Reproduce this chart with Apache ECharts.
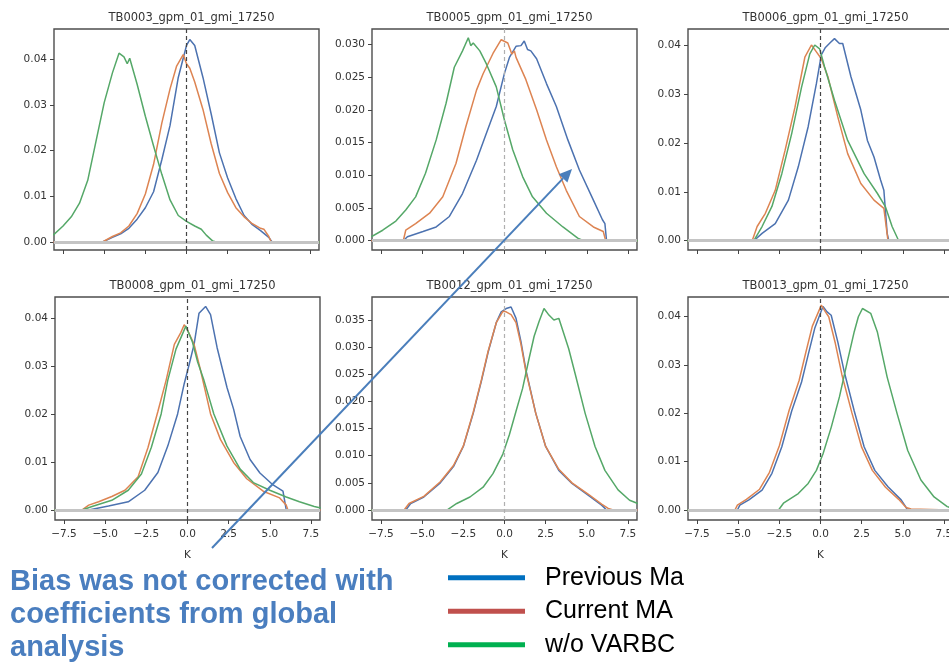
<!DOCTYPE html>
<html><head><meta charset="utf-8">
<script src="https://cdn.jsdelivr.net/npm/echarts@6.0.0/dist/echarts.min.js"></script>
<style>html,body{margin:0;padding:0;background:#fff}#c{width:949px;height:663px}</style>
</head><body><div id="c"></div>
<script>
// ---------- data ----------
const seriesNames = ['Previous Ma', 'Current MA', 'w/o VARBC'];
const panelTitles = ['TB0003_gpm_01_gmi_17250','TB0005_gpm_01_gmi_17250','TB0006_gpm_01_gmi_17250',
                     'TB0008_gpm_01_gmi_17250','TB0012_gpm_01_gmi_17250','TB0013_gpm_01_gmi_17250'];
const xTicks = [-7.5, -5, -2.5, 0, 2.5, 5, 7.5];
const yTicks2 = [0, 0.01, 0.02, 0.03, 0.04];
const yTicks3 = [0, 0.005, 0.01, 0.015, 0.02, 0.025, 0.03];
const yTicks3b = [0, 0.005, 0.01, 0.015, 0.02, 0.025, 0.03, 0.035];
const xLabel = 'K';

const tb0003_prev = [[-8.1,0],[-5.1,0],[-5,0.0003],[-4.5,0.001],[-4,0.0018],[-3.5,0.003],[-3,0.005],[-2.5,0.0075],[-2,0.011],[-1.5,0.018],[-1,0.0255],[-0.5,0.036],[0,0.043],[0.2,0.0443],[0.5,0.043],[1,0.036],[1.5,0.028],[2,0.0195],[2.5,0.014],[3,0.0095],[3.5,0.0058],[4,0.0038],[4.5,0.0025],[5,0.001],[5.2,0],[8.1,0]];
const tb0003_curr = [[-8.1,0],[-5.1,0],[-5,0.0004],[-4.5,0.0012],[-4,0.002],[-3.5,0.0035],[-3,0.0062],[-2.5,0.0105],[-2,0.017],[-1.5,0.026],[-1,0.0335],[-0.6,0.0385],[-0.2,0.041],[0,0.039],[0.2,0.038],[0.5,0.035],[1,0.029],[1.5,0.0215],[2,0.015],[2.5,0.0108],[3,0.0075],[3.5,0.0055],[4,0.004],[4.5,0.003],[4.7,0.0028],[5,0.0012],[5.15,0],[8.1,0]];
const tb0003_novarbc = [[-8.1,0.0015],[-7.5,0.0035],[-7,0.0055],[-6.5,0.0085],[-6,0.0135],[-5.5,0.022],[-5,0.0305],[-4.5,0.037],[-4.1,0.0413],[-3.8,0.0405],[-3.6,0.039],[-3.45,0.0402],[-3,0.0345],[-2.5,0.0275],[-2,0.021],[-1.5,0.0148],[-1,0.0092],[-0.5,0.0058],[0,0.0045],[0.5,0.0035],[0.9,0.0028],[1.2,0.0015],[1.6,0.0002],[1.8,0],[8.1,0]];

const tb0005_prev = [[-8.1,0],[-6.15,0],[-5.9,0.0006],[-4.95,0.0014],[-4.15,0.0021],[-3.35,0.0037],[-2.55,0.0072],[-1.7,0.0123],[-1.1,0.0164],[-0.5,0.0205],[0,0.0256],[0.3,0.028],[0.7,0.0297],[1.0,0.0298],[1.2,0.0305],[1.4,0.0292],[1.6,0.029],[1.95,0.0278],[2.55,0.024],[3.15,0.0205],[3.85,0.0154],[4.55,0.0108],[5.4,0.0062],[5.95,0.0032],[6.1,0.0026],[6.2,0],[8.1,0]];
const tb0005_curr = [[-8.1,0],[-6.15,0],[-6.0,0.0016],[-5.4,0.0026],[-4.55,0.0042],[-3.75,0.0067],[-2.95,0.0118],[-2.35,0.0174],[-1.7,0.023],[-1.3,0.0255],[-0.7,0.0286],[-0.2,0.0307],[0.2,0.0302],[0.45,0.0285],[0.6,0.029],[0.7,0.028],[1.3,0.0246],[1.95,0.02],[2.55,0.0154],[3.15,0.0113],[3.75,0.0077],[4.55,0.0037],[5.4,0.0021],[6.0,0.0014],[6.15,0],[8.1,0]];
const tb0005_novarbc = [[-8.1,0.0006],[-7.4,0.0016],[-6.6,0.003],[-6.0,0.0047],[-5.4,0.0067],[-4.8,0.0103],[-4.15,0.0154],[-3.55,0.021],[-3.05,0.0265],[-2.55,0.029],[-2.2,0.031],[-2.05,0.0298],[-1.9,0.0302],[-1.5,0.029],[-1.1,0.027],[-0.5,0.0235],[0,0.0184],[0.5,0.0139],[1.1,0.0098],[1.7,0.0067],[2.55,0.0042],[3.55,0.0021],[4.45,0.0004],[4.8,0],[8.1,0]];

const tb0006_prev = [[-8.1,0],[-4.05,0],[-3.55,0.0015],[-2.75,0.0035],[-1.95,0.0083],[-1.35,0.0151],[-0.75,0.0233],[-0.25,0.0321],[0.05,0.038],[0.3,0.0395],[0.6,0.0405],[0.85,0.0413],[1.15,0.0403],[1.35,0.0403],[1.85,0.0335],[2.45,0.0267],[2.85,0.0205],[3.25,0.0171],[3.65,0.0124],[3.85,0.0103],[4.05,0.0015],[4.15,0],[8.1,0]];
const tb0006_curr = [[-8.1,0],[-4.15,0],[-3.85,0.0029],[-3.35,0.0056],[-2.75,0.0103],[-2.15,0.0185],[-1.55,0.0273],[-0.95,0.0375],[-0.55,0.04],[-0.25,0.0386],[0.05,0.0372],[0.45,0.0335],[1.05,0.0253],[1.65,0.0178],[2.45,0.0117],[3.25,0.0083],[3.85,0.0066],[4.1,0],[8.1,0]];
const tb0006_novarbc = [[-8.1,0],[-4.05,0],[-3.55,0.0029],[-2.95,0.007],[-2.35,0.0137],[-1.75,0.0219],[-1.15,0.0314],[-0.65,0.0382],[-0.35,0.04],[-0.05,0.0392],[0.25,0.0355],[0.85,0.0287],[1.65,0.0205],[2.65,0.0137],[3.45,0.0097],[3.95,0.0069],[4.35,0.0029],[4.75,0],[8.1,0]];

const tb0008_prev = [[-8.1,0],[-6.0,0],[-4.8,0.0008],[-3.6,0.0017],[-2.6,0.0041],[-1.8,0.0078],[-1.2,0.0133],[-0.6,0.02],[-0.2,0.0263],[0.1,0.0303],[0.4,0.0345],[0.7,0.041],[1.1,0.0424],[1.4,0.0407],[1.8,0.0338],[2.4,0.0255],[2.8,0.021],[3.2,0.0153],[3.8,0.0105],[4.4,0.0077],[5.2,0.0052],[5.8,0.0039],[5.9,0.0035],[6.0,0],[8.1,0]];
const tb0008_curr = [[-8.1,0],[-6.4,0],[-6.0,0.001],[-5.4,0.0017],[-4.6,0.0028],[-3.8,0.0041],[-3.0,0.0069],[-2.4,0.013],[-1.8,0.0205],[-1.3,0.027],[-0.8,0.0345],[-0.4,0.037],[-0.2,0.0386],[0,0.0375],[0.4,0.0345],[0.8,0.029],[1.4,0.02],[2.0,0.0147],[2.8,0.0099],[3.6,0.0065],[4.6,0.0039],[5.6,0.0025],[6.0,0.001],[6.1,0],[8.1,0]];
const tb0008_novarbc = [[-8.1,0],[-6.4,0],[-5.8,0.0007],[-4.6,0.002],[-3.6,0.0041],[-2.8,0.0075],[-2.2,0.013],[-1.6,0.02],[-1.2,0.027],[-0.7,0.0335],[-0.1,0.0383],[0.3,0.035],[0.6,0.031],[1.0,0.027],[1.6,0.02],[2.4,0.0133],[3.2,0.0085],[4.0,0.0057],[5.0,0.0041],[6.0,0.0027],[6.8,0.0017],[7.7,0.0007],[8.1,0.0004]];

const tb0012_prev = [[-8.1,0],[-6.0,0],[-5.7,0.0012],[-4.9,0.0024],[-3.9,0.005],[-3.1,0.008],[-2.5,0.0117],[-1.9,0.0178],[-1.4,0.0238],[-1.0,0.029],[-0.5,0.0345],[-0.2,0.0365],[0.1,0.0371],[0.4,0.0374],[0.7,0.0353],[1.0,0.031],[1.3,0.0258],[1.9,0.0178],[2.5,0.0117],[3.3,0.0073],[4.1,0.0049],[5.1,0.0027],[5.9,0.0009],[6.2,0],[8.1,0]];
const tb0012_curr = [[-8.1,0],[-6.1,0],[-5.8,0.0012],[-4.9,0.0025],[-3.9,0.0052],[-3.1,0.0082],[-2.5,0.0118],[-1.9,0.018],[-1.4,0.024],[-1.0,0.0292],[-0.5,0.0345],[-0.1,0.0366],[0.1,0.0365],[0.4,0.036],[0.7,0.0345],[1.0,0.0305],[1.3,0.0255],[1.9,0.0178],[2.5,0.0117],[3.3,0.0075],[4.1,0.005],[5.1,0.0029],[5.9,0.0011],[6.3,0.0003],[6.6,0],[8.1,0]];
const tb0012_novarbc = [[-8.1,0],[-3.5,0],[-2.9,0.0012],[-2.1,0.0024],[-1.3,0.0042],[-0.7,0.0067],[-0.1,0.0103],[0.3,0.0139],[0.7,0.0182],[1.1,0.0224],[1.5,0.028],[1.8,0.032],[2.1,0.0347],[2.4,0.0371],[2.7,0.0359],[3.0,0.035],[3.3,0.0353],[3.9,0.0297],[4.3,0.025],[4.9,0.0178],[5.5,0.0117],[6.1,0.0073],[6.9,0.0037],[7.6,0.0018],[8.1,0.0012]];

const tb0013_prev = [[-8.1,0],[-5.05,0],[-4.9,0.001],[-4.35,0.0021],[-3.55,0.0041],[-2.95,0.0076],[-2.35,0.0131],[-1.75,0.0205],[-1.15,0.0265],[-0.75,0.0321],[-0.35,0.0376],[0.15,0.0421],[0.4,0.041],[0.65,0.0403],[1.05,0.0348],[1.45,0.0285],[2.05,0.0205],[2.65,0.0131],[3.3,0.0082],[4.1,0.0048],[4.9,0.0021],[5.3,0],[8.1,0]];
const tb0013_curr = [[-8.1,0],[-5.2,0],[-5.05,0.001],[-4.5,0.0022],[-3.7,0.0043],[-3.1,0.0078],[-2.5,0.0133],[-1.9,0.0207],[-1.3,0.0268],[-0.9,0.0325],[-0.5,0.038],[0.05,0.0424],[0.3,0.041],[0.5,0.04],[0.9,0.0345],[1.3,0.028],[1.9,0.0202],[2.5,0.013],[3.15,0.0082],[3.95,0.0047],[4.75,0.0022],[5.2,0.0005],[5.5,0.0002],[8.1,0]];
const tb0013_novarbc = [[-8.1,0],[-2.55,0],[-2.25,0.0014],[-1.35,0.0034],[-0.75,0.0055],[-0.25,0.0082],[0.15,0.0116],[0.65,0.0171],[1.15,0.0234],[1.65,0.031],[2.05,0.0369],[2.3,0.04],[2.55,0.0417],[3.05,0.0407],[3.45,0.0369],[4.05,0.0275],[4.65,0.02],[5.3,0.0123],[6.1,0.0062],[6.9,0.0027],[7.7,0.0007],[8.1,0.0003]];

const annotationLines = ['Bias was not corrected with', 'coefficients from global', 'analysis'];

// ---------- layout / style ----------
const panelData = [
  [tb0003_prev, tb0003_curr, tb0003_novarbc],
  [tb0005_prev, tb0005_curr, tb0005_novarbc],
  [tb0006_prev, tb0006_curr, tb0006_novarbc],
  [tb0008_prev, tb0008_curr, tb0008_novarbc],
  [tb0012_prev, tb0012_curr, tb0012_novarbc],
  [tb0013_prev, tb0013_curr, tb0013_novarbc]
];
const panelYTicks = [yTicks2, yTicks3, yTicks2, yTicks2, yTicks3b, yTicks2];
const panelYDec = [2, 3, 2, 2, 3, 2];
const panelYRange = [[-0.00175,0.0466],[-0.00142,0.03234],[-0.0019,0.04327],[-0.0021,0.04437],[-0.00184,0.03923],[-0.00207,0.04408]];
const panelBox = [
  {left:54, top:29, width:265, height:221},
  {left:372, top:29, width:265, height:221},
  {left:688, top:29, width:265, height:221},
  {left:55, top:297, width:265, height:223},
  {left:372, top:297, width:265, height:223},
  {left:688, top:297, width:265, height:223}
];
const dashColor = ['#444','#b0b0b0','#444','#444','#b0b0b0','#444'];
const lineColors = ['#4c72b0', '#dd8452', '#55a868'];
const legendColors = ['#0070c0', '#c0504d', '#00b050'];
const FONT = 'DejaVu Sans';

const grids = [], xAxes = [], yAxes = [], titles = [], series = [];
panelBox.forEach((b, i) => {
  const bottomRow = i >= 3;
  grids.push(Object.assign({show:true, borderColor:'#4d4d4d', borderWidth:1.4, backgroundColor:'#fff', containLabel:false, outerBoundsMode:'none'}, b));
  xAxes.push({
    type:'value', gridIndex:i, min:-8.05, max:8.05,
    axisLine:{show:false, onZero:false}, splitLine:{show:false},
    axisTick:{show:true, customValues:xTicks, length:4, lineStyle:{color:'#444', width:1}},
    axisLabel:{show:bottomRow, customValues:xTicks, margin:9, fontFamily:FONT, fontSize:10.5, color:'#333',
      formatter:v => (v < 0 ? '\u2212' : '') + Math.abs(v).toFixed(1)},
    name: bottomRow ? xLabel : '', nameLocation:'middle', nameGap:30,
    nameTextStyle:{fontFamily:FONT, fontSize:10.5, color:'#333'}
  });
  yAxes.push({
    type:'value', gridIndex:i, min:panelYRange[i][0], max:panelYRange[i][1],
    axisLine:{show:false, onZero:false}, splitLine:{show:false},
    axisTick:{show:true, customValues:panelYTicks[i], length:4, lineStyle:{color:'#444', width:1}},
    axisLabel:{customValues:panelYTicks[i], margin:7, fontFamily:FONT, fontSize:10.5, color:'#333',
      formatter:v => v.toFixed(panelYDec[i])}
  });
  titles.push({
    text:panelTitles[i], left:b.left + b.width/2, top:b.top - 22, textAlign:'center',
    textStyle:{fontFamily:FONT, fontSize:11.5, fontWeight:'normal', color:'#333'}
  });
  series.push({
    type:'line', xAxisIndex:i, yAxisIndex:i, data:[], silent:true, z:1,
    markLine:{symbol:'none', silent:true, label:{show:false}, animation:false,
      data:[
        {yAxis:0, lineStyle:{color:'#c4c4c4', width:3, type:'solid'}},
        {xAxis:0, lineStyle:{color:dashColor[i], width:1.2, type:[4,3]}}
      ]}
  });
  panelData[i].forEach((d, k) => {
    series.push({
      type:'line', name:seriesNames[k], xAxisIndex:i, yAxisIndex:i, data:d,
      showSymbol:false, symbol:'none', z:2+k, animation:false, clip:true,
      lineStyle:{color:lineColors[k], width:1.5}, itemStyle:{color:lineColors[k]}
    });
  });
});

// annotation arrow geometry
const ax0 = 212, ay0 = 548, ax1 = 572, ay1 = 169;
const L = Math.hypot(ax1-ax0, ay1-ay0), ux = (ax1-ax0)/L, uy = (ay1-ay0)/L;
const hl = 13, hw = 6;
const bx = ax1 - ux*hl, by = ay1 - uy*hl;

const option = {
  animation:false,
  backgroundColor:'#fff',
  title: titles,
  grid: grids, xAxis: xAxes, yAxis: yAxes, series: series,
  legend:{
    orient:'vertical', left:448, top:565, padding:0, itemWidth:77, itemHeight:5, itemGap:8,
    icon:'rect', selectedMode:false,
    textStyle:{fontFamily:'Liberation Sans', fontSize:25, lineHeight:25.5, color:'#000', padding:[0,0,0,15]},
    data: seriesNames.map((n,k) => ({name:n, icon:'rect', itemStyle:{color:legendColors[k]}}))
  },
  graphic:[
    {type:'line', silent:true, z:100, shape:{x1:ax0, y1:ay0, x2:bx, y2:by}, style:{stroke:'#4a7ebb', lineWidth:2}},
    {type:'polygon', silent:true, z:100, shape:{points:[[ax1,ay1],[bx+(-uy)*hw, by+ux*hw],[bx-(-uy)*hw, by-ux*hw]]}, style:{fill:'#4a7ebb'}}
  ].concat(annotationLines.map((t, j) => ({
    type:'text', left:10, top:567 + j*33, silent:true,
    style:{text:t, fill:'#4a7ebf', font:'bold 29px "Liberation Sans", Arial, sans-serif'}
  })))
};
const chart = echarts.init(document.getElementById('c'), null, {renderer:'canvas'});
chart.setOption(option);
</script></body></html>
